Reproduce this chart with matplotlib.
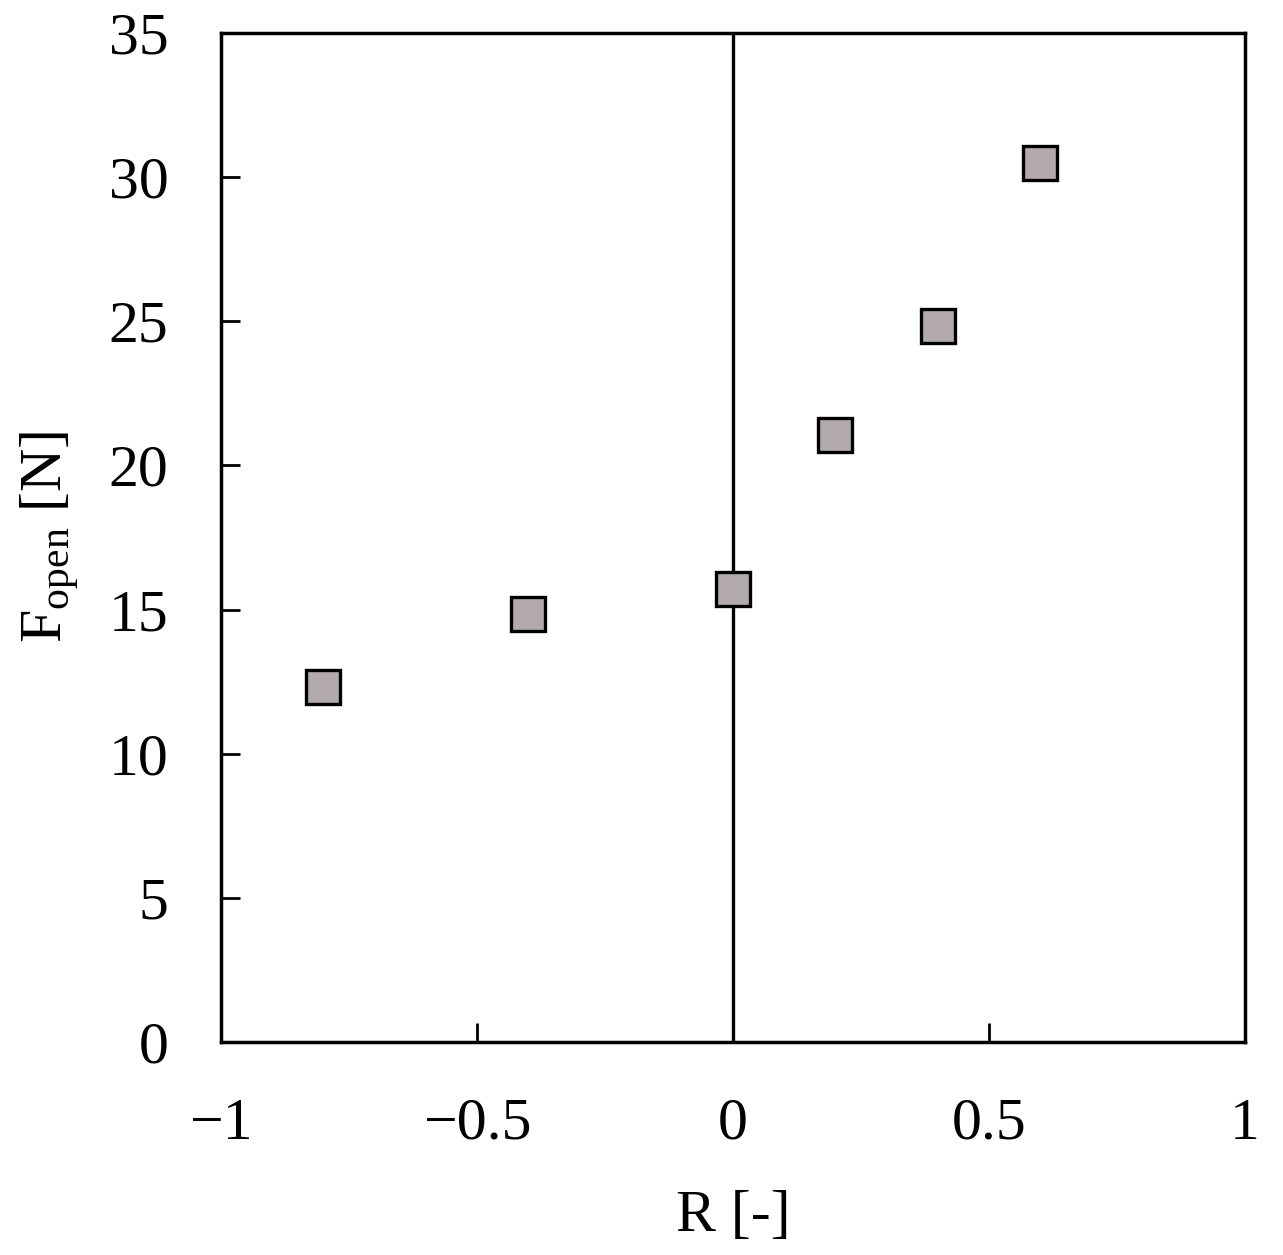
import numpy as np
import matplotlib.pyplot as plt

plt.rcParams['font.family'] = ['Liberation Serif', 'DejaVu Serif']
plt.rcParams['mathtext.fontset'] = 'custom'
plt.rcParams['mathtext.rm'] = 'Liberation Serif'
plt.rcParams['mathtext.it'] = 'Liberation Serif:italic'

# dane
R = [-0.8, -0.4, 0.0, 0.2, 0.4, 0.6]
F_open = [12.3, 14.85, 15.7, 21.05, 24.85, 30.5]
xticks = [-1, -0.5, 0, 0.5, 1]
xtick_labels = ['\u22121', '\u22120.5', '0', '0.5', '1']
yticks = [0, 5, 10, 15, 20, 25, 30, 35]

fig = plt.figure(figsize=(12.83, 12.55), dpi=100)
ax = fig.add_axes([0.1723, 0.1697, 0.7981, 0.804])

ax.axvline(0, color='black', lw=2.4, zorder=1)
ax.plot(R, F_open, 's', ms=25, mfc='#b3abab', mec='black', mew=2.4, zorder=3)

ax.set_xlim(-1, 1)
ax.set_ylim(0, 35)
ax.set_xticks(xticks)
ax.set_xticklabels(xtick_labels)
ax.set_yticks(yticks)
ax.tick_params(direction='in', length=14, width=2, labelsize=43, pad=40)
ax.tick_params(axis='y', pad=38)
for s in ax.spines.values():
    s.set_linewidth(2.5)

ax.set_xlabel('R [-]', fontsize=43, labelpad=28)
ax.set_ylabel(r'F$_{\mathrm{open}}$ [N]', fontsize=43, labelpad=20)

plt.savefig('out.png', dpi=100)
